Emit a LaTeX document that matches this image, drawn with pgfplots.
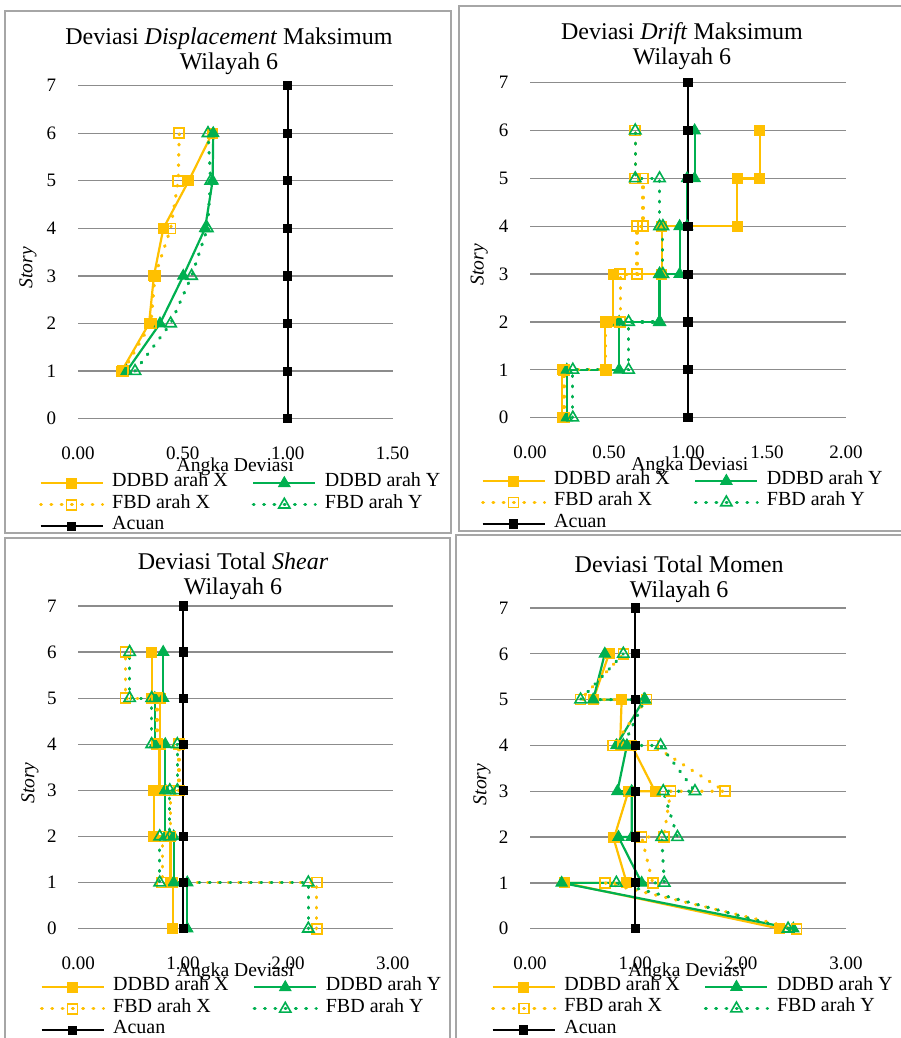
\documentclass[border=0pt]{standalone}
\usepackage{pgfplots}
\pgfplotsset{compat=1.18}
\usepackage{fontspec}
\setmainfont{Liberation Serif}
\definecolor{ddorange}{HTML}{FFC000}
\definecolor{ddgreen}{HTML}{00B050}
\definecolor{gridc}{HTML}{8C8C8C}
\definecolor{boxc}{HTML}{A6A6A6}
\pgfplotsset{
  dev/.style={
    scale only axis, clip=false,
    ymin=0, ymax=7, ytick={0,1,...,7},
    axis line style={draw=none},
    ymajorgrids, grid style={draw=gridc, line width=1.3pt},
    major tick length=0pt, tick style={draw=none},
    /pgf/number format/assume math mode=true,
    ticklabel style={font=\fontsize{19}{19}\selectfont},
    xticklabel style={anchor=center, yshift=-34.3pt, /pgf/number format/.cd, fixed, fixed zerofill, precision=2},
    yticklabel style={anchor=center, xshift=-26.5pt},
    label style={font=\fontsize{19.6}{20}\selectfont},
    ylabel={\textit{Story}},
    xlabel={Angka Deviasi},
    title style={font=\fontsize{24}{25}\selectfont, align=center, inner sep=0pt, anchor=south},
    legend columns=2, legend cell align=left,
    legend image code/.code={\draw[mark repeat=2,mark phase=2,##1] plot coordinates {(0pt,0pt) (31pt,0pt) (62pt,0pt)};},
    legend style={draw=none, fill=none, inner sep=0pt, outer sep=0pt, anchor=north west,
      font=\fontsize{20}{22}\selectfont,
      nodes={inner xsep=0pt, inner ysep=0pt, text height=14pt, text depth=7.5pt, anchor=west},
      /tikz/every odd column/.append style={column sep=8pt},
      /tikz/every even column/.append style={column sep=24pt}},
  },
  ddx/.style={color=ddorange, line width=2.2pt, mark=square*, mark size=5pt, mark options={solid, fill=ddorange, line width=1pt}},
  ddy/.style={color=ddgreen, line width=2.2pt, mark=triangle*, mark size=6.5pt, mark options={solid, fill=ddgreen, line width=1pt}},
  fbx/.style={color=ddorange, line width=3.2pt, line cap=round, dash pattern=on 0.8pt off 9.5pt, mark=square, mark size=5pt, mark options={solid, line width=1.6pt, fill=none}},
  fby/.style={color=ddgreen, line width=3.2pt, line cap=round, dash pattern=on 0.8pt off 9.5pt, mark=triangle, mark size=6.5pt, mark options={solid, line width=1.6pt, fill=none}},
  acu/.style={color=black, line width=2.2pt, mark=square*, mark size=3.5pt, mark options={solid, fill=black}},
}
\begin{document}
\begin{tikzpicture}
\useasboundingbox (0pt,0pt) rectangle (901pt,1038pt);
% panel frames
\draw[boxc, line width=2pt] (5pt,1027pt) rectangle (451pt,505pt);
\draw[boxc, line width=2pt] (459pt,1032pt) rectangle (904pt,507pt);
\draw[boxc, line width=2pt] (5pt,500pt) rectangle (450pt,-5pt);
\draw[boxc, line width=2pt] (456pt,503pt) rectangle (904pt,-5pt);

% ---------- Panel 1: displacement ----------
\begin{axis}[dev, at={(78pt,619.3pt)}, anchor=south west, width=314.5pt, height=333pt,
  xmin=0, xmax=1.5, xtick={0,0.5,1,1.5},
  title={Deviasi \textit{Displacement} Maksimum\\Wilayah 6},
  title style={at={(axis description cs:0.48,1)}, yshift=4.7pt},
  ylabel style={at={(axis description cs:-0.159,0.4526)}, anchor=center},
  xlabel style={at={(axis description cs:0.5,-0.145)}, anchor=center},
  legend style={at={(axis description cs:-0.124,-0.1616)}}]
\addplot[ddx] coordinates {(0.208,1) (0.339,2) (0.362,3) (0.407,4) (0.528,5) (0.640,6)};
\addlegendentry{DDBD arah X}
\addplot[ddy] coordinates {(0.232,1) (0.391,2) (0.502,3) (0.606,4) (0.642,5) (0.645,6)};
\addlegendentry{DDBD arah Y}
\addplot[fbx] coordinates {(0.216,1) (0.348,2) (0.367,3) (0.442,4) (0.478,5) (0.483,6)};
\addlegendentry{FBD arah X}
\addplot[fby] coordinates {(0.272,1) (0.442,2) (0.542,3) (0.617,4) (0.633,5) (0.620,6)};
\addlegendentry{FBD arah Y}
\addplot[acu] coordinates {(1,0) (1,1) (1,2) (1,3) (1,4) (1,5) (1,6) (1,7)};
\addlegendentry{Acuan}
\end{axis}

% ---------- Panel 2: drift ----------
\begin{axis}[dev, at={(530pt,620.3pt)}, anchor=south west, width=316pt, height=335pt,
  xmin=0, xmax=2, xtick={0,0.5,1,1.5,2},
  title={Deviasi \textit{Drift} Maksimum\\Wilayah 6},
  title style={at={(axis description cs:0.481,1)}, yshift=7pt},
  ylabel style={at={(axis description cs:-0.161,0.456)}, anchor=center},
  xlabel style={at={(axis description cs:0.506,-0.144)}, anchor=center},
  legend style={at={(axis description cs:-0.155,-0.157)}}]
\addplot[ddx] coordinates {(0.203,0) (0.203,1) (0.476,1) (0.476,2) (0.526,2) (0.526,3) (0.835,3) (0.835,4) (1.311,4) (1.311,5) (1.454,5) (1.454,6)};
\addlegendentry{DDBD arah X}
\addplot[ddy] coordinates {(0.233,0) (0.233,1) (0.564,1) (0.564,2) (0.820,2) (0.820,3) (0.947,3) (0.947,4) (0.994,4) (0.994,5) (1.042,5) (1.042,6)};
\addlegendentry{DDBD arah Y}
\addplot[fbx] coordinates {(0.215,0) (0.215,1) (0.480,1) (0.480,2) (0.571,2) (0.571,3) (0.677,3) (0.677,4) (0.715,4) (0.715,5) (0.666,5) (0.666,6)};
\addlegendentry{FBD arah X}
\addplot[fby] coordinates {(0.271,0) (0.271,1) (0.624,1) (0.624,2) (0.820,2) (0.820,3) (0.841,3) (0.841,4) (0.820,4) (0.820,5) (0.666,5) (0.666,6)};
\addlegendentry{FBD arah Y}
\addplot[acu] coordinates {(1,0) (1,1) (1,2) (1,3) (1,4) (1,5) (1,6) (1,7)};
\addlegendentry{Acuan}
\end{axis}

% ---------- Panel 3: shear ----------
\begin{axis}[dev, at={(78.3pt,109.3pt)}, anchor=south west, width=314.4pt, height=322.7pt,
  xmin=0, xmax=3, xtick={0,1,2,3},
  title={Deviasi Total \textit{Shear}\\Wilayah 6},
  title style={at={(axis description cs:0.492,1)}, yshift=0pt},
  ylabel style={at={(axis description cs:-0.154,0.4515)}, anchor=center},
  xlabel style={at={(axis description cs:0.5,-0.134)}, anchor=center},
  legend style={at={(axis description cs:-0.122,-0.1485)}}]
\addplot[ddx] coordinates {(0.90,0) (0.90,1) (0.88,1) (0.88,2) (0.72,2) (0.72,3) (0.775,3) (0.775,4) (0.78,4) (0.78,5) (0.70,5) (0.70,6)};
\addlegendentry{DDBD arah X}
\addplot[ddy] coordinates {(1.04,0) (1.04,1) (0.91,1) (0.91,2) (0.83,2) (0.83,3) (0.83,3) (0.83,4) (0.73,4) (0.73,5) (0.81,5) (0.81,6)};
\addlegendentry{DDBD arah Y}
\addplot[fbx] coordinates {(2.275,0) (2.275,1) (0.80,1) (0.80,2) (0.88,2) (0.88,3) (0.96,3) (0.96,4) (0.75,4) (0.75,5) (0.45,5) (0.45,6)};
\addlegendentry{FBD arah X}
\addplot[fby] coordinates {(2.195,0) (2.195,1) (0.777,1) (0.777,2) (0.873,2) (0.873,3) (0.945,3) (0.945,4) (0.70,4) (0.70,5) (0.49,5) (0.49,6)};
\addlegendentry{FBD arah Y}
\addplot[acu] coordinates {(1,0) (1,1) (1,2) (1,3) (1,4) (1,5) (1,6) (1,7)};
\addlegendentry{Acuan}
\end{axis}

% ---------- Panel 4: moment ----------
\begin{axis}[dev, at={(530pt,109.3pt)}, anchor=south west, width=316pt, height=320.7pt,
  xmin=0, xmax=3, xtick={0,1,2,3},
  title={Deviasi Total Momen\\Wilayah 6},
  title style={at={(axis description cs:0.472,1)}, yshift=-1pt},
  ylabel style={at={(axis description cs:-0.152,0.45)}, anchor=center},
  xlabel style={at={(axis description cs:0.496,-0.134)}, anchor=center},
  legend style={at={(axis description cs:-0.123,-0.1485)}}]
\addplot[ddx] coordinates {(2.373,0) (0.332,1) (0.918,1) (0.79,2) (0.80,2) (0.934,3) (1.187,3) (0.965,4) (0.855,4) (0.87,5) (0.60,5) (0.75,6)};
\addlegendentry{DDBD arah X}
\addplot[ddy] coordinates {(2.50,0) (0.30,1) (1.06,1) (0.84,2) (0.965,2) (0.965,3) (0.83,3) (0.92,4) (0.82,4) (1.08,5) (0.60,5) (0.71,6)};
\addlegendentry{DDBD arah Y}
\addplot[fbx] coordinates {(2.53,0) (0.71,1) (1.165,1) (1.06,2) (1.27,2) (1.335,3) (1.85,3) (1.17,4) (0.79,4) (1.107,5) (0.48,5) (0.886,6)};
\addlegendentry{FBD arah X}
\addplot[fby] coordinates {(2.45,0) (0.82,1) (1.275,1) (1.25,2) (1.40,2) (1.265,3) (1.566,3) (1.24,4) (0.886,4) (1.09,5) (0.48,5) (0.886,6)};
\addlegendentry{FBD arah Y}
\addplot[acu] coordinates {(1,0) (1,1) (1,2) (1,3) (1,4) (1,5) (1,6) (1,7)};
\addlegendentry{Acuan}
\end{axis}
\end{tikzpicture}
\end{document}
